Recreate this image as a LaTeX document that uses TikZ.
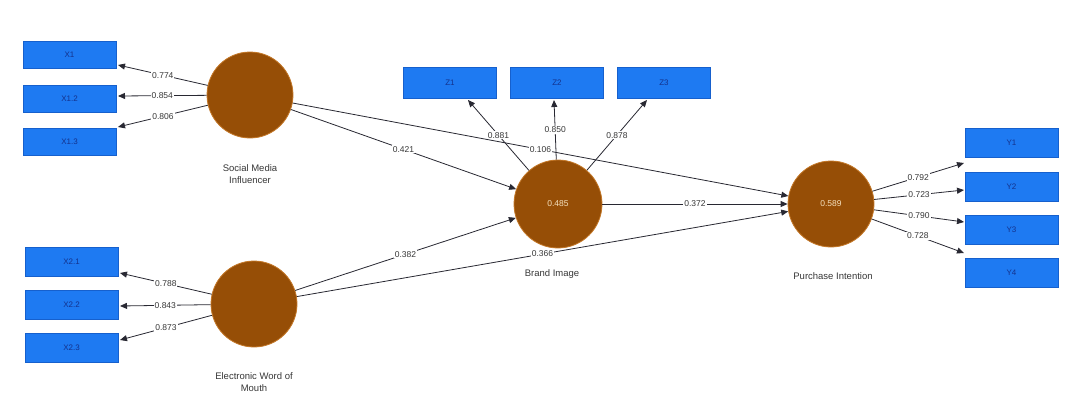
\documentclass[tikz,border=0pt]{standalone}
\usepackage{fontspec}
\setmainfont{Liberation Sans}
\usetikzlibrary{arrows.meta}
\definecolor{boxblue}{RGB}{30,122,242}
\definecolor{boxedge}{RGB}{22,96,205}
\definecolor{boxtext}{RGB}{20,50,140}
\definecolor{lvbrown}{RGB}{150,78,6}
\definecolor{lvedge}{RGB}{196,120,40}
\definecolor{lvtext}{RGB}{245,225,190}
\definecolor{linegray}{RGB}{40,40,50}
\definecolor{labelgray}{RGB}{55,55,55}
\begin{document}
\begin{tikzpicture}[x=1pt,y=-1pt,
  ind/.style={rectangle, fill=boxblue, draw=boxedge, line width=0.6pt,
    minimum width=93pt, minimum height=29pt, inner sep=0pt,
    font=\fontsize{8}{9}\selectfont, text=boxtext},
  lv/.style={circle, fill=lvbrown, draw=lvedge, line width=0.8pt,
    minimum size=86pt, inner sep=0pt,
    font=\fontsize{8.5}{10}\selectfont, text=lvtext},
  lvname/.style={align=center, font=\fontsize{9.5}{12}\selectfont, text=labelgray},
  link/.style={draw=linegray, line width=0.8pt, -{Triangle[length=7pt,width=6pt]}},
  coef/.style={fill=white, inner sep=1pt, midway,
    font=\fontsize{8.5}{10}\selectfont, text=labelgray}]
\useasboundingbox (0,0) rectangle (1065,399);
\fill[white] (0,0) rectangle (1065,399);

% indicator boxes: Social Media Influencer
\node[ind, minimum height=27pt] (x11) at (69.5,55)  {X1};
\node[ind, minimum height=27pt] (x12) at (69.5,99)  {X1.2};
\node[ind, minimum height=27pt] (x13) at (69.5,142) {X1.3};
% indicator boxes: Electronic Word of Mouth
\node[ind] (x21) at (71.5,262) {X2.1};
\node[ind] (x22) at (71.5,305) {X2.2};
\node[ind] (x23) at (71.5,348) {X2.3};
% indicator boxes: Brand Image
\node[ind, minimum height=31pt] (z1) at (450,83)  {Z1};
\node[ind, minimum height=31pt] (z2) at (557,83)  {Z2};
\node[ind, minimum height=31pt] (z3) at (664,83)  {Z3};
% indicator boxes: Purchase Intention
\node[ind] (y1) at (1011.5,143) {Y1};
\node[ind] (y2) at (1011.5,187) {Y2};
\node[ind] (y3) at (1011.5,230) {Y3};
\node[ind] (y4) at (1011.5,273) {Y4};

% latent variables
\node[lv] (smi) at (250,95)  {};
\node[lv] (ewom) at (254,304) {};
\node[lv, minimum size=88pt] (bi) at (558,204) {0.485};
\node[lv] (pi) at (831,204) {0.589};

\node[lvname] (sminame) at (250,174) {Social Media\\Influencer};
\node[lvname] (ewomname) at (254,382) {Electronic Word of\\Mouth};
\node[lvname] (biname) at (552,274) {Brand Image};
\node[lvname] (piname) at (833,276) {Purchase Intention};

% arrow tips on the indicator boxes
\coordinate (tx11) at (118,65);
\coordinate (tx12) at (118,96);
\coordinate (tx13) at (118,127);
\coordinate (tx21) at (120,273);
\coordinate (tx22) at (120,306);
\coordinate (tx23) at (120,340);
\coordinate (tz1) at (468,100);
\coordinate (tz2) at (554,100);
\coordinate (tz3) at (647,100);
\coordinate (ty1) at (964,163);
\coordinate (ty2) at (964,190);
\coordinate (ty3) at (964,222);
\coordinate (ty4) at (964,253);

% outer loadings
\draw[link] (smi) -- node[coef] {0.774} (tx11);
\draw[link] (smi) -- node[coef] {0.854} (tx12);
\draw[link] (smi) -- node[coef] {0.806} (tx13);
\draw[link] (ewom) -- node[coef] {0.788} (tx21);
\draw[link] (ewom) -- node[coef] {0.843} (tx22);
\draw[link] (ewom) -- node[coef] {0.873} (tx23);

% structural paths
\draw[link] (smi) -- node[coef] {0.106} (pi);
\draw[link] (smi) -- node[coef] {0.421} (bi);
\draw[link] (ewom) -- node[coef] {0.382} (bi);
\draw[link] (ewom) -- node[coef] {0.366} (pi);
\draw[link] (bi) -- node[coef] {0.372} (pi);

\draw[link] (bi) -- node[coef] {0.881} (tz1);
\draw[link] (bi) -- node[coef] {0.850} (tz2);
\draw[link] (bi) -- node[coef] {0.878} (tz3);
\draw[link] (pi) -- node[coef] {0.792} (ty1);
\draw[link] (pi) -- node[coef] {0.723} (ty2);
\draw[link] (pi) -- node[coef] {0.790} (ty3);
\draw[link] (pi) -- node[coef] {0.728} (ty4);
\end{tikzpicture}
\end{document}
